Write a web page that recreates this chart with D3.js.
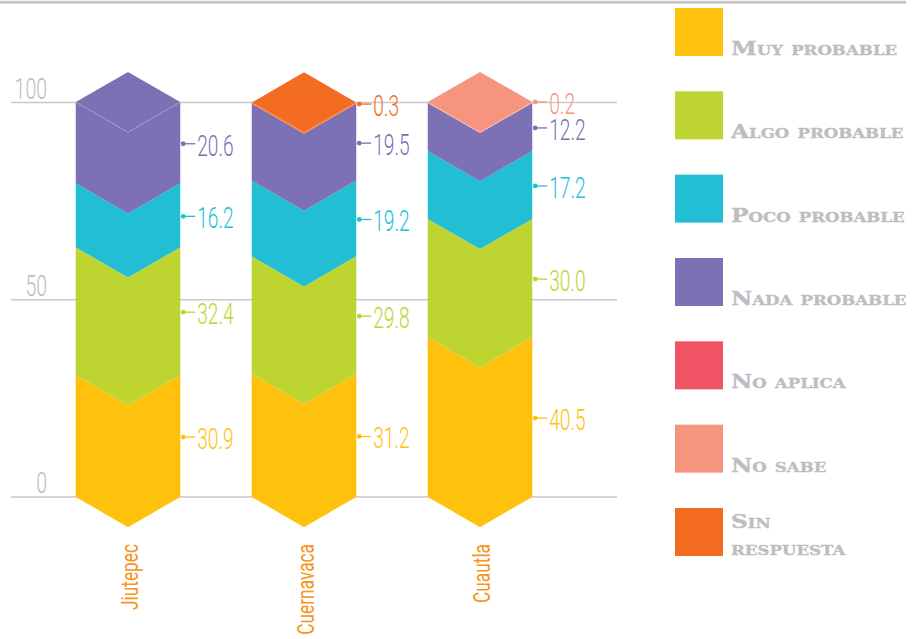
<!DOCTYPE html>
<html>
<head>
<meta charset="utf-8">
<script src="https://cdn.jsdelivr.net/npm/d3@7"></script>
<style>
  html, body { margin: 0; padding: 0; background: #ffffff; }
  svg { display: block; }
</style>
</head>
<body>
<svg id="chart" width="919" height="639"></svg>
<script>
// Municipalities (columns)
const categories = ["Jiutepec", "Cuernavaca", "Cuautla"];

// Answer categories, bottom to top of each column
const seriesNames = ["Muy probable", "Algo probable", "Poco probable", "Nada probable", "No aplica", "No sabe", "Sin respuesta"];

// Percentages per municipality, in the order of `categories`
const muyProbable  = [30.9, 31.2, 40.5];
const algoProbable = [32.4, 29.8, 30.0];
const pocoProbable = [16.2, 19.2, 17.2];
const nadaProbable = [20.6, 19.5, 12.2];
const noAplica     = [0, 0, 0];
const noSabe       = [0, 0, 0.2];
const sinRespuesta = [0, 0.3, 0];

const yTicks = [0, 50, 100];

const palette = ["#FEC20E", "#BDD431", "#22BFD4", "#7B71B4", "#F05464", "#F5957F", "#F36C21"];

const seriesValues = [muyProbable, algoProbable, pocoProbable, nadaProbable, noAplica, noSabe, sinRespuesta];

// Table rows for d3.stack
const rows = categories.map((c, i) => {
  const r = { name: c };
  seriesNames.forEach((s, k) => { r[s] = seriesValues[k][i]; });
  return r;
});

const stacked = d3.stack().keys(seriesNames)(rows);

const svg = d3.select("#chart");

const x = d3.scalePoint().domain(categories).range([128, 480]);
const y = d3.scaleLinear().domain([0, 100]).range([497, 102.5]);
const color = d3.scaleOrdinal().domain(seriesNames).range(palette);

const colW = 104.5;
const half = colW / 2;
const drop = half * Math.tan(Math.PI / 6);   // isometric chevron depth

const numFont = "Roboto, 'Liberation Sans', sans-serif";
const numScale = 0.66;
const numSize = 29;

// top rule
svg.append("line")
  .attr("x1", 0).attr("x2", 906)
  .attr("y1", 2.3).attr("y2", 2.3)
  .attr("stroke", "#c6c6ca").attr("stroke-width", 3);

// gridlines
svg.append("g").selectAll("line")
  .data(yTicks).join("line")
  .attr("x1", 11).attr("x2", 617)
  .attr("y1", d => y(d)).attr("y2", d => y(d))
  .attr("stroke", "#c9c9c9").attr("stroke-width", 1.5);

// tick labels
svg.append("g").selectAll("g")
  .data(yTicks).join("g")
  .attr("transform", d => `translate(47,${y(d) - 4}) scale(${numScale},1)`)
  .append("text")
  .attr("text-anchor", "end")
  .attr("font-family", numFont)
  .attr("font-weight", 300)
  .attr("font-size", numSize + 0.5)
  .attr("fill", "#bcbcc1")
  .text(d => d);

// chevron segment: top edge at v1, bottom edge at v0, both pointing down
function chevron(cx, v0, v1) {
  const p = d3.path();
  const y0 = y(v0), y1 = y(v1);
  p.moveTo(cx - half, y1);
  p.lineTo(cx, y1 + drop);
  p.lineTo(cx + half, y1);
  p.lineTo(cx + half, y0);
  p.lineTo(cx, y0 + drop);
  p.lineTo(cx - half, y0);
  p.closePath();
  return p.toString();
}

const segG = svg.append("g");
stacked.forEach(layer => {
  segG.append("g").selectAll("path")
    .data(layer.filter(d => d[1] - d[0] > 0))
    .join("path")
    .attr("d", d => chevron(x(d.data.name), d[0], d[1]))
    .attr("fill", color(layer.key));
});

// top face of each column, coloured by its uppermost answer
const topG = svg.append("g");
categories.forEach((c, i) => {
  let topKey = null, total = 0;
  stacked.forEach(layer => {
    const d = layer[i];
    if (d[1] - d[0] > 0) { topKey = layer.key; total = d[1]; }
  });
  const cx = x(c), yt = y(total);
  topG.append("path")
    .attr("d", `M${cx - half},${yt}L${cx},${yt - drop}L${cx + half},${yt}L${cx},${yt + drop}Z`)
    .attr("fill", color(topKey));
  topG.append("path")
    .attr("d", `M${cx - half},${yt}L${cx},${yt + drop}L${cx + half},${yt}`)
    .attr("fill", "none")
    .attr("stroke", "#ffffff").attr("stroke-opacity", 0.35)
    .attr("stroke-width", 0.8).attr("stroke-dasharray", "2,1.5");
});

// value callouts: one per non-empty segment, placed at the segment middle,
// then pushed apart upwards where neighbours in a column would collide
const callouts = [];
stacked.forEach(layer => {
  layer.forEach(d => {
    if (d[1] - d[0] > 0) {
      callouts.push({
        cat: d.data.name,
        key: layer.key,
        value: d[1] - d[0],
        cy: y((d[0] + d[1]) / 2) + 1
      });
    }
  });
});
const minGap = 26;
categories.forEach(c => {
  const col = callouts.filter(o => o.cat === c).sort((a, b) => b.cy - a.cy);
  for (let i = 1; i < col.length; i++) {
    if (col[i - 1].cy - col[i].cy < minGap) col[i].cy = col[i - 1].cy - minGap;
  }
});

const lab = svg.append("g").selectAll("g")
  .data(callouts).join("g")
  .attr("transform", d => `translate(${x(d.cat) + half + 3},${d.cy})`);
lab.append("circle").attr("r", 2.4).attr("fill", d => color(d.key));
lab.append("line").attr("x1", 0).attr("x2", 12).attr("y1", 0).attr("y2", 0)
  .attr("stroke", d => color(d.key)).attr("stroke-width", 1.3);
lab.append("g")
  .attr("transform", `translate(14,12) scale(${numScale},1)`)
  .append("text")
  .attr("font-family", numFont)
  .attr("font-weight", 300)
  .attr("font-size", numSize)
  .attr("fill", d => color(d.key))
  .text(d => d3.format(".1f")(d.value + 1e-9));

// municipality names, rotated
svg.append("g").selectAll("g")
  .data(categories).join("g")
  .attr("transform", d => `translate(${x(d) + 10},544) rotate(-90) scale(0.72,1)`)
  .append("text")
  .attr("text-anchor", "end")
  .attr("font-family", numFont)
  .attr("font-size", 24)
  .attr("fill", "#F7941D")
  .text(d => d);

// legend
const legStep = 83.33;
const leg = svg.append("g").selectAll("g")
  .data(seriesNames).join("g")
  .attr("transform", (d, i) => `translate(675,${8 + i * legStep})`);
leg.append("rect")
  .attr("width", 48).attr("height", 48)
  .attr("fill", d => color(d));

const legLabel = leg.append("g").attr("transform", "translate(56,0)");
const legText = legLabel.append("text")
  .attr("font-family", "'DejaVu Serif', 'Liberation Serif', serif")
  .attr("font-weight", 700)
  .attr("font-variant", "small-caps")
  .attr("font-size", 18.5)
  .attr("fill", "#bdbdc2")
  .attr("stroke", "#bdbdc2")
  .attr("stroke-width", 0.35);
legText.each(function(d) {
  const words = d === "Sin respuesta" ? ["Sin", "respuesta"] : [d];
  const t = d3.select(this);
  const base = words.length > 1 ? 20 : 47;
  words.forEach((w, j) => {
    t.append("tspan").attr("x", 0).attr("y", base + j * 27).text(w);
  });
});
// fit the small-caps labels to the legend column width
const firstW = legText.node().getComputedTextLength();
const legScale = 164 / firstW;
legLabel.attr("transform", `translate(56,0) scale(${legScale},1)`);
</script>
</body>
</html>
